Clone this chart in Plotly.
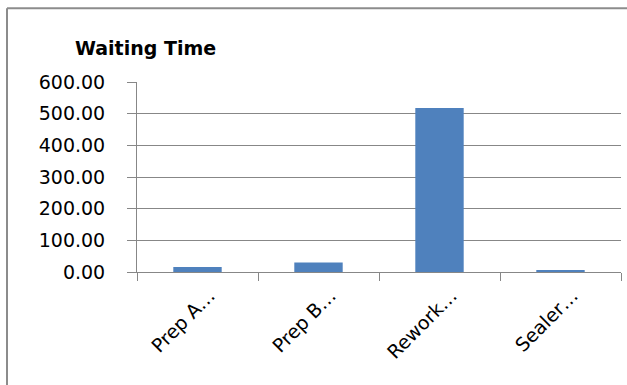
import plotly.graph_objects as go

categories = ["Prep A…", "Prep B…", "Rework…", "Sealer…"]
waiting_time = [16, 30, 518, 6]
y_ticks = [0, 100, 200, 300, 400, 500, 600]
y_tick_labels = ["0.00", "100.00", "200.00", "300.00", "400.00", "500.00", "600.00"]

W, H = 627, 385
L, R, T, B = 137, 6, 82, 112.5
pw, ph = W - L - R, H - T - B

def px_x(x):
    return (x - L) / pw

def px_y(y):
    return (H - B - y) / ph

FONT = "DejaVu Sans"
GRID = "#878787"

fig = go.Figure(go.Bar(x=categories, y=waiting_time, marker_color="#4F81BD",
                       marker_line_width=0))

fig.update_layout(
    width=W, height=H,
    margin=dict(l=L, r=R, t=T, b=B),
    paper_bgcolor="white", plot_bgcolor="white",
    bargap=0.6,
    showlegend=False,
    font=dict(family=FONT, color="black", size=19),
    xaxis=dict(
        tickangle=-45, tickson="boundaries", ticks="outside", ticklen=8,
        tickcolor=GRID, showline=True, linecolor=GRID, linewidth=1,
        showgrid=False, ticklabelshift=12, ticklabelstandoff=4,
        tickfont=dict(family=FONT, size=19),
    ),
    yaxis=dict(
        range=[0, 600], tickvals=y_ticks, ticktext=y_tick_labels,
        ticks="outside", ticklen=9, tickcolor=GRID,
        showgrid=True, gridcolor=GRID, gridwidth=1,
        showline=True, linecolor=GRID, linewidth=1, zeroline=False,
        ticklabelstandoff=18, tickfont=dict(family=FONT, size=19),
    ),
    annotations=[dict(
        text="<b>Waiting Time</b>", xref="paper", yref="paper",
        x=px_x(73), y=px_y(48), xanchor="left", yanchor="middle",
        showarrow=False, font=dict(family=FONT, size=19, color="black"),
    )],
    shapes=[
        dict(type="line", xref="paper", yref="paper", x0=px_x(7), x1=px_x(640),
             y0=px_y(8), y1=px_y(8), line=dict(color="#8c8c8c", width=2)),
        dict(type="line", xref="paper", yref="paper", x0=px_x(7), x1=px_x(7),
             y0=px_y(8), y1=px_y(400), line=dict(color="#8c8c8c", width=2)),
    ],
)

fig.write_html("out.html")
